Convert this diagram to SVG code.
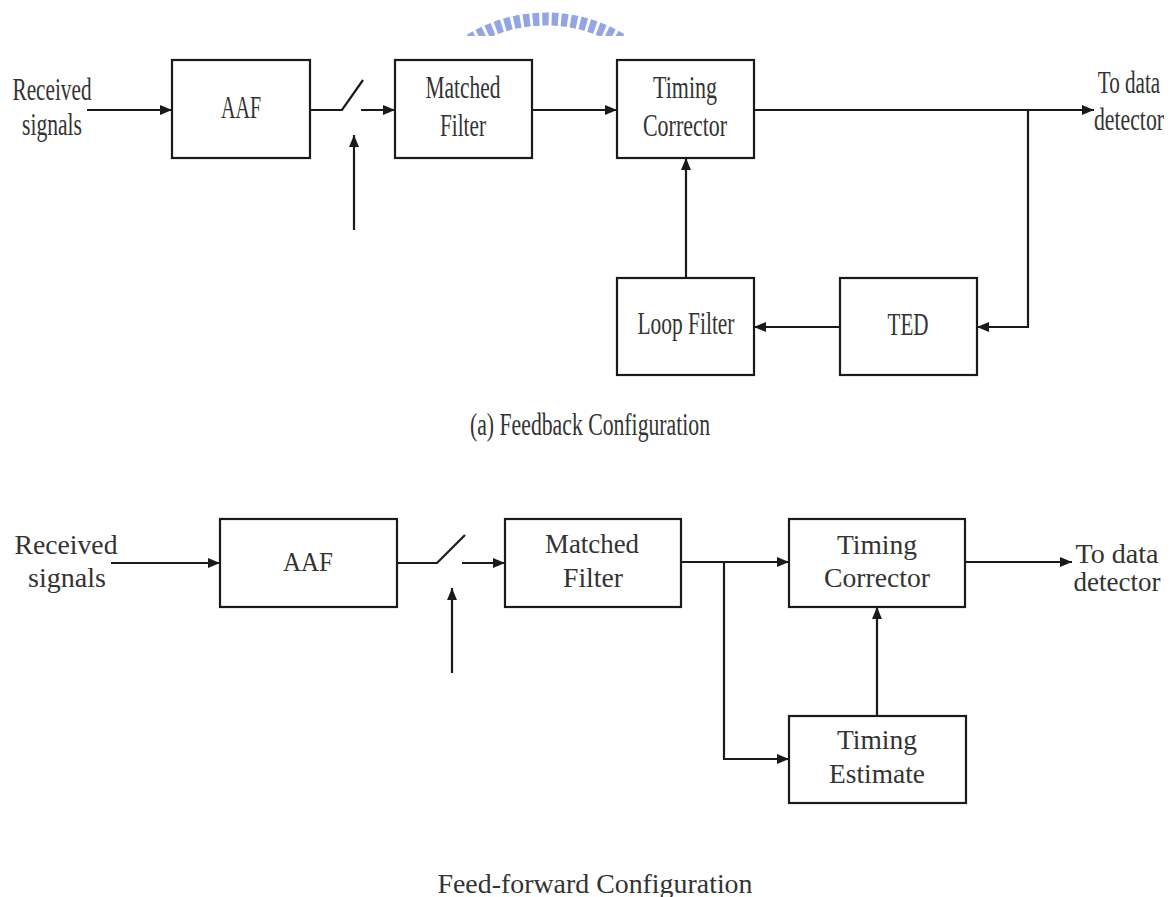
<svg xmlns="http://www.w3.org/2000/svg" width="1175" height="897" viewBox="0 0 1175 897">
<style>
  .box { fill: #fff; stroke: #1a1a1a; stroke-width: 2.2; }
  .ln { fill: none; stroke: #1a1a1a; stroke-width: 2.2; }
  .arr { fill: none; stroke: #1a1a1a; stroke-width: 2.2; marker-end: url(#ah); }
  .t1 { font-family: "Liberation Serif", "Times New Roman", serif; font-size: 32px; fill: #333; text-anchor: middle; }
  .t2 { font-family: "Liberation Serif", "Times New Roman", serif; font-size: 27px; fill: #333; text-anchor: middle; }
</style>
<defs>
  <marker id="ah" viewBox="0 0 12 10" refX="12" refY="5" markerWidth="12" markerHeight="10" markerUnits="userSpaceOnUse" orient="auto">
    <path d="M0,0 L12,5 L0,10 Z" fill="#1a1a1a"/>
  </marker>
  <clipPath id="wmclip"><rect x="440" y="0" width="220" height="36"/></clipPath>
</defs>
<rect width="1175" height="897" fill="#fff"/>

<!-- watermark -->
<g id="watermark" clip-path="url(#wmclip)">
  <circle cx="546" cy="165" r="146" fill="none" stroke="#93a5e2" stroke-width="13" stroke-dasharray="6.5 3"/>
</g>

<!-- ===== (a) Feedback configuration ===== -->
<g id="connectors-a">
  <line class="arr" x1="87" y1="110" x2="172" y2="110"/>
  <polyline class="ln" points="310,110 342,110 363,80"/>
  <line class="arr" x1="361" y1="110" x2="395" y2="110"/>
  <line class="arr" x1="354" y1="230" x2="354" y2="135"/>
  <line class="arr" x1="532" y1="110" x2="617" y2="110"/>
  <line class="arr" x1="754" y1="110" x2="1094" y2="110"/>
  <polyline class="arr" points="1028,110 1028,327 977,327"/>
  <line class="arr" x1="840" y1="327" x2="754" y2="327"/>
  <line class="arr" x1="686" y1="278" x2="686" y2="158"/>
</g>
<g id="a-received">
  <text class="t1" x="52" y="100" textLength="79" lengthAdjust="spacingAndGlyphs">Received</text>
  <text class="t1" x="52" y="135" textLength="60" lengthAdjust="spacingAndGlyphs">signals</text>
</g>
<g id="a-aaf">
  <rect class="box" x="172" y="60" width="138" height="98"/>
  <text class="t1" x="241" y="118" textLength="40" lengthAdjust="spacingAndGlyphs">AAF</text>
</g>
<g id="a-matched">
  <rect class="box" x="395" y="60" width="137" height="98"/>
  <text class="t1" x="463" y="98" textLength="75" lengthAdjust="spacingAndGlyphs">Matched</text>
  <text class="t1" x="463" y="136" textLength="46" lengthAdjust="spacingAndGlyphs">Filter</text>
</g>
<g id="a-corrector">
  <rect class="box" x="617" y="60" width="137" height="98"/>
  <text class="t1" x="685" y="98" textLength="64" lengthAdjust="spacingAndGlyphs">Timing</text>
  <text class="t1" x="685" y="136" textLength="84" lengthAdjust="spacingAndGlyphs">Corrector</text>
</g>
<g id="a-loop">
  <rect class="box" x="617" y="278" width="137" height="97"/>
  <text class="t1" x="686" y="334" textLength="97" lengthAdjust="spacingAndGlyphs">Loop Filter</text>
</g>
<g id="a-ted">
  <rect class="box" x="840" y="278" width="137" height="97"/>
  <text class="t1" x="908" y="335" textLength="41" lengthAdjust="spacingAndGlyphs">TED</text>
</g>
<g id="a-out">
  <text class="t1" transform="translate(1129,93) scale(0.66,1)">To data</text>
  <text class="t1" transform="translate(1129,130) scale(0.68,1)">detector</text>
</g>
<text class="t1" x="590" y="435" textLength="240" lengthAdjust="spacingAndGlyphs">(a) Feedback Configuration</text>

<!-- ===== Feed-forward configuration ===== -->
<g id="connectors-b">
  <line class="arr" x1="111" y1="563" x2="220" y2="563"/>
  <polyline class="ln" points="397,563 437,563 465,535"/>
  <line class="arr" x1="462" y1="563" x2="505" y2="563"/>
  <line class="arr" x1="452" y1="673" x2="452" y2="588"/>
  <line class="arr" x1="681" y1="562" x2="789" y2="562"/>
  <polyline class="arr" points="724,562 724,759 789,759"/>
  <line class="arr" x1="965" y1="562" x2="1072" y2="562"/>
  <line class="arr" x1="877" y1="716" x2="877" y2="607"/>
</g>
<g id="b-received">
  <text class="t2" x="66" y="554" textLength="103" lengthAdjust="spacingAndGlyphs">Received</text>
  <text class="t2" x="67" y="587" textLength="78" lengthAdjust="spacingAndGlyphs">signals</text>
</g>
<g id="b-aaf">
  <rect class="box" x="220" y="519" width="177" height="88"/>
  <text class="t2" x="308" y="571" textLength="50" lengthAdjust="spacingAndGlyphs">AAF</text>
</g>
<g id="b-matched">
  <rect class="box" x="505" y="519" width="176" height="88"/>
  <text class="t2" x="592" y="553" textLength="94" lengthAdjust="spacingAndGlyphs">Matched</text>
  <text class="t2" x="593" y="587" textLength="60" lengthAdjust="spacingAndGlyphs">Filter</text>
</g>
<g id="b-corrector">
  <rect class="box" x="789" y="519" width="176" height="88"/>
  <text class="t2" x="877" y="554" textLength="80" lengthAdjust="spacingAndGlyphs">Timing</text>
  <text class="t2" x="877" y="587" textLength="106" lengthAdjust="spacingAndGlyphs">Corrector</text>
</g>
<g id="b-estimate">
  <rect class="box" x="789" y="716" width="177" height="87"/>
  <text class="t2" x="877" y="749" textLength="80" lengthAdjust="spacingAndGlyphs">Timing</text>
  <text class="t2" x="877" y="783" textLength="96" lengthAdjust="spacingAndGlyphs">Estimate</text>
</g>
<g id="b-out">
  <text class="t2" x="1117" y="563" textLength="83" lengthAdjust="spacingAndGlyphs">To data</text>
  <text class="t2" x="1117" y="591" textLength="87" lengthAdjust="spacingAndGlyphs">detector</text>
</g>
<text class="t2" x="595" y="893" style="font-size:28px" textLength="315" lengthAdjust="spacingAndGlyphs">Feed-forward Configuration</text>
</svg>
